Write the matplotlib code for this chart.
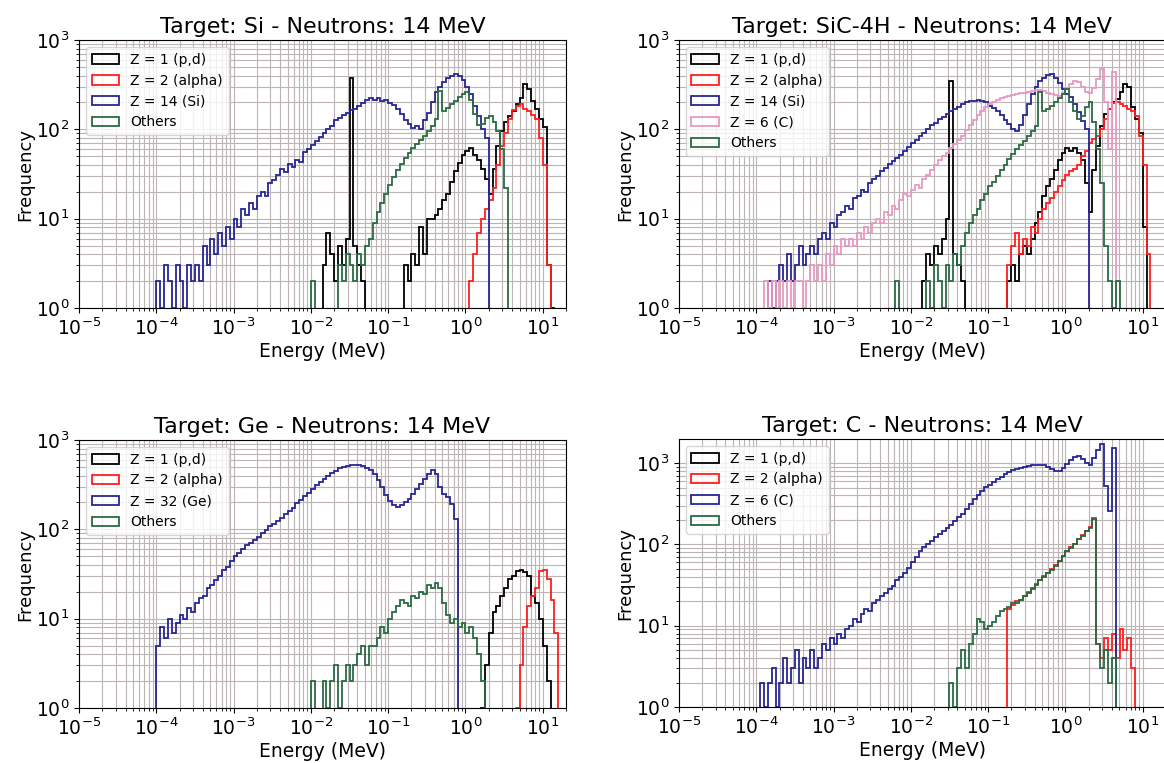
import numpy as np
import matplotlib
matplotlib.use("Agg")
import matplotlib.pyplot as plt
from matplotlib.patches import Patch
from matplotlib.ticker import LogLocator, NullFormatter

BINS_PER_DECADE = 20  # histogram bins are 0.05 decade wide

# ---------------- data (start = log10 of first bin lower edge, MeV) ----------------
# Panel 1: Si
si_z1_start = -1.85
si_z1 = [3, 7, 4, 2, 5, 3, 6, 380, 5, 3,
         2, 0, 0, 0, 0, 0, 0, 0, 0, 0,
         0, 3, 2, 4, 3, 8, 4, 10, 10, 11,
         13, 16, 19, 26, 34, 42, 52, 58, 62, 52,
         45, 36, 28, 19, 36, 65, 95, 120, 140, 160,
         190, 225, 320, 280, 210, 170, 130, 105, 3, 1]
si_z2_start = 0.05
si_z2 = [2, 4, 7, 10, 13, 16, 22, 40, 65, 90,
         130, 165, 185, 190, 170, 160, 145, 130, 80, 40, 3]
si_z14_start = -4.00
si_z14 = [2, 1, 3, 2, 1, 3, 2, 1, 3, 2, 3, 2,
          5, 3, 6, 4, 7, 5, 8, 6,
          10, 8, 13, 11, 15, 13, 18, 20, 18, 25,
          27, 31, 36, 33, 41, 38, 45, 43, 56, 60,
          66, 74, 83, 90, 102, 110, 126, 133, 146, 152,
          166, 170, 182, 195, 212, 222, 212, 226, 208, 215,
          198, 186, 168, 150, 128, 114, 104, 108, 100, 126,
          152, 205, 262, 300, 342, 372, 392, 412, 395, 360,
          300, 250, 185, 140, 100, 80]
si_oth_start = -2.00
si_oth = [2, 0, 0, 0, 0, 0, 0, 3, 2, 4,
          3, 2, 4, 3, 5, 6, 9, 12, 15, 19,
          24, 29, 35, 41, 48, 54, 62, 68, 76, 84,
          95, 108, 130, 270, 160, 172, 190, 208, 232, 248,
          262, 215, 150, 112, 115, 135, 140, 122, 95, 60, 22]

# Panel 2: SiC-4H
sic_z1_start = -1.85
sic_z1 = [2, 4, 3, 5, 4, 6, 10, 345, 4, 3,
          2, 0, 0, 0, 0, 0, 0, 0, 0, 0,
          0, 0, 2, 3, 2, 4, 5, 4, 6, 9,
          12, 18, 23, 28, 35, 45, 55, 62, 58, 62,
          55, 45, 25, 12, 35, 65, 110, 150, 170, 200,
          220, 260, 320, 300, 180, 130, 90, 8]
sic_z2_start = -0.75
sic_z2 = [3, 5, 7, 4, 6, 5, 8, 7, 10, 13,
          15, 17, 20, 23, 27, 31, 34, 36, 40, 50,
          58, 70, 78, 85, 100, 130, 170, 195, 205, 190,
          185, 170, 160, 140, 85, 40, 4]
sic_z14_start = -3.85
sic_z14 = [2, 1, 2, 3, 2, 4, 2, 3, 5, 3,
           4, 5, 4, 6, 7, 6, 9, 8, 11, 12,
           14, 13, 17, 18, 21, 20, 25, 28, 30, 34,
           37, 41, 44, 48, 52, 57, 64, 70, 77, 84,
           92, 100, 112, 118, 130, 138, 150, 160, 170, 180,
           192, 200, 210, 206, 215, 208, 200, 185, 175, 160,
           145, 128, 115, 102, 95, 112, 145, 190, 250, 300,
           345, 380, 410, 420, 375, 330, 285, 250, 230, 190,
           158, 125, 100]
sic_z6_start = -3.90
sic_z6 = [2, 1, 2, 1, 2, 1, 2, 1, 2, 2,
          1, 2, 3, 2, 3, 2, 4, 3, 5, 4,
          6, 5, 6, 5, 7, 6, 8, 7, 9, 10,
          9, 12, 11, 14, 13, 16, 19, 18, 21, 24,
          22, 28, 31, 35, 40, 46, 50, 55, 62, 68,
          76, 85, 98, 112, 128, 145, 160, 178, 192, 205,
          215, 225, 232, 238, 245, 250, 255, 258, 262, 268,
          275, 278, 270, 258, 250, 240, 238, 255, 280, 320,
          350, 340, 300, 265, 255, 290, 370, 470, 200, 60,
          440]
sic_oth_start = -2.20
sic_oth = [2, 0, 0, 0, 0, 0, 0, 0, 2, 1,
           3, 2, 1, 3, 2, 4, 3, 5, 7, 9,
           11, 13, 16, 19, 23, 26, 30, 35, 40, 47,
           53, 60, 66, 75, 84, 95, 110, 265, 160, 170,
           185, 200, 225, 250, 280, 200, 160, 130, 140, 180,
           200, 120, 60, 25, 5, 2, 1, 2]

# Panel 3: Ge
ge_z1_start = 0.20
ge_z1 = [1, 3, 7, 12, 14, 18, 22, 28, 30, 34, 35, 33, 30, 18, 15, 10, 5, 2]
ge_z2_start = 0.65
ge_z2 = [1, 3, 8, 14, 18, 22, 34, 35, 28, 16, 7]
ge_z32_start = -4.00
ge_z32 = [5, 8, 6, 10, 7, 9, 11, 10, 13, 12,
          15, 17, 18, 22, 24, 27, 30, 35, 38, 44,
          50, 55, 60, 66, 70, 76, 82, 90, 98, 108,
          115, 125, 135, 148, 160, 175, 195, 212, 235, 255,
          280, 310, 340, 370, 400, 425, 450, 480, 500, 515,
          525, 530, 520, 510, 490, 460, 420, 360, 300, 240,
          205, 185, 180, 185, 200, 220, 250, 280, 320, 370,
          420, 465, 420, 300, 250, 230, 190, 130]
ge_oth_start = -2.00
ge_oth = [2, 0, 0, 2, 1, 2, 3, 1, 2, 3,
          2, 3, 4, 5, 3, 5, 5, 6, 8, 7,
          10, 12, 14, 16, 15, 14, 18, 17, 20, 19,
          24, 22, 25, 22, 15, 11, 9, 10, 8, 9,
          7, 8, 6, 4, 2]

# Panel 4: C
c_z1_start = 0.0
c_z1 = []
c_z2_start = -0.75
c_z2 = [16, 18, 20, 21, 23, 26, 29, 33, 37, 41,
        45, 50, 56, 63, 73, 84, 92, 102, 117, 130,
        147, 162, 210, 6, 4, 7, 5, 8, 4, 9,
        5, 7, 3]
c_z6_start = -3.95
c_z6 = [2, 1, 2, 3, 1, 2, 4, 2, 3, 5,
        2, 4, 3, 5, 3, 4, 6, 5, 7, 6,
        8, 7, 9, 10, 12, 11, 14, 16, 15, 19,
        21, 23, 25, 28, 31, 36, 40, 45, 52, 60,
        70, 82, 92, 100, 110, 122, 135, 148, 160, 175,
        192, 215, 240, 275, 315, 360, 410, 460, 510, 540,
        580, 630, 680, 730, 780, 820, 850, 880, 900, 920,
        940, 960, 950, 940, 900, 840, 790, 800, 880, 980,
        1080, 1200, 1220, 1120, 1000, 960, 1150, 1450, 1700, 520, 260, 1550]
c_oth_start = -1.50
c_oth = [2, 1, 3, 5, 3, 6, 8, 12, 11, 9,
         10, 11, 13, 15, 16, 17, 19, 19, 21, 23,
         25, 28, 32, 36, 40, 44, 49, 55, 62, 72,
         82, 90, 100, 115, 128, 145, 160, 205, 6, 3,
         5, 2, 4]

titles = ["Target: Si - Neutrons: 14 MeV", "Target: SiC-4H - Neutrons: 14 MeV",
          "Target: Ge - Neutrons: 14 MeV", "Target: C - Neutrons: 14 MeV"]
x_ticks = [1e-5, 1e-4, 1e-3, 1e-2, 1e-1, 1e0, 1e1]
y_ticks = [1e0, 1e1, 1e2, 1e3]

# ---------------- styling ----------------
COL_Z1 = "black"
COL_Z2 = "#ff1e1e"
COL_HEAVY = "#262693"
COL_C = "#e898c2"
COL_OTH = "#2a6a42"

panels = [
    dict(title=titles[0], ytop=1000, pos=[0.0679, 0.5963, 0.4184, 0.3512],
         series=[("Z = 1 (p,d)", COL_Z1, si_z1_start, si_z1),
                 ("Z = 2 (alpha)", COL_Z2, si_z2_start, si_z2),
                 ("Z = 14 (Si)", COL_HEAVY, si_z14_start, si_z14),
                 ("Others", COL_OTH, si_oth_start, si_oth)]),
    dict(title=titles[1], ytop=1000, pos=[0.5833, 0.5963, 0.4184, 0.3512],
         series=[("Z = 1 (p,d)", COL_Z1, sic_z1_start, sic_z1),
                 ("Z = 2 (alpha)", COL_Z2, sic_z2_start, sic_z2),
                 ("Z = 14 (Si)", COL_HEAVY, sic_z14_start, sic_z14),
                 ("Z = 6 (C)", COL_C, sic_z6_start, sic_z6),
                 ("Others", COL_OTH, sic_oth_start, sic_oth)]),
    dict(title=titles[2], ytop=1000, pos=[0.0679, 0.0721, 0.4184, 0.3512],
         series=[("Z = 1 (p,d)", COL_Z1, ge_z1_start, ge_z1),
                 ("Z = 2 (alpha)", COL_Z2, ge_z2_start, ge_z2),
                 ("Z = 32 (Ge)", COL_HEAVY, ge_z32_start, ge_z32),
                 ("Others", COL_OTH, ge_oth_start, ge_oth)]),
    dict(title=titles[3], ytop=1980, pos=[0.5833, 0.0734, 0.4184, 0.3512],
         series=[("Z = 1 (p,d)", COL_Z1, c_z1_start, c_z1),
                 ("Z = 2 (alpha)", COL_Z2, c_z2_start, c_z2),
                 ("Z = 6 (C)", COL_HEAVY, c_z6_start, c_z6),
                 ("Others", COL_OTH, c_oth_start, c_oth)]),
]

fig = plt.figure(figsize=(11.64, 7.63), dpi=100)

for p in panels:
    ax = fig.add_axes(p["pos"])
    ax.set_xscale("log")
    ax.set_yscale("log")
    handles = []
    for label, color, start, counts in p["series"]:
        counts = np.asarray(counts, dtype=float)
        if counts.size:
            edges = 10.0 ** (start + np.arange(counts.size + 1) / BINS_PER_DECADE)
            ax.stairs(np.where(counts > 0, counts, 0.3), edges, baseline=0.3,
                      color=color, lw=1.3)
        handles.append(Patch(facecolor="none", edgecolor=color, lw=1.3, label=label))
    ax.set_xlim(1e-5, 20)
    ax.set_ylim(1, p["ytop"])
    ax.set_xticks(x_ticks)
    ax.set_yticks(y_ticks)
    ax.xaxis.set_minor_locator(LogLocator(base=10, subs=np.arange(2, 10), numticks=20))
    ax.yaxis.set_minor_locator(LogLocator(base=10, subs=np.arange(2, 10), numticks=20))
    ax.xaxis.set_minor_formatter(NullFormatter())
    ax.yaxis.set_minor_formatter(NullFormatter())
    ax.grid(True, which="both", color="#bdb5b5", lw=0.8)
    ax.set_axisbelow(True)
    ax.tick_params(which="both", labelsize=13.5)
    ax.set_title(p["title"], fontsize=16, pad=5)
    ax.set_xlabel("Energy (MeV)", fontsize=13.5, labelpad=2)
    ax.set_ylabel("Frequency", fontsize=13, labelpad=1)
    ax.legend(handles=handles, loc="upper left", fontsize=10, framealpha=0.8,
              handlelength=2.0, borderaxespad=0.5)

fig.savefig("out.png", dpi=100)
